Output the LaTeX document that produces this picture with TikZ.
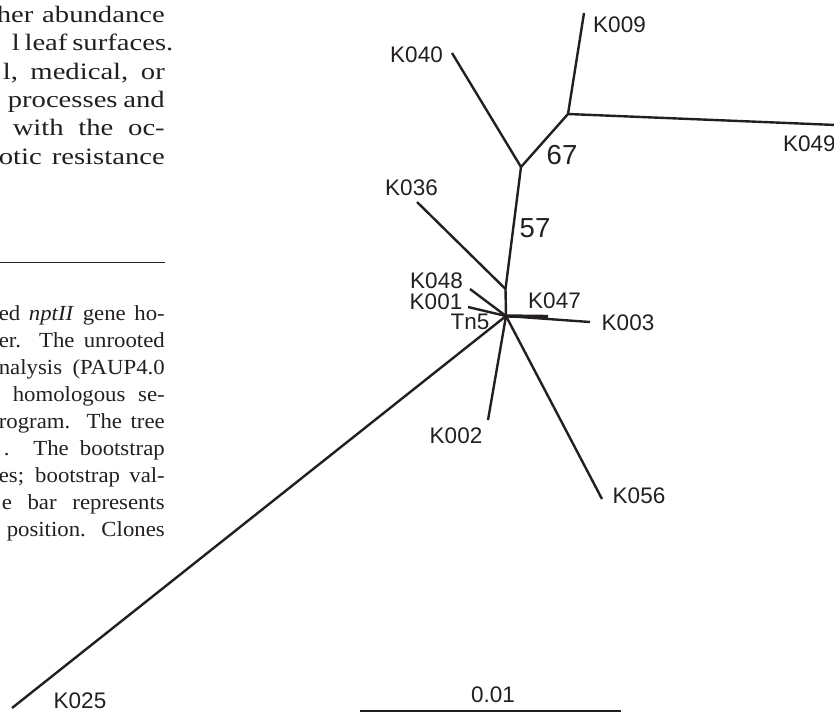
\documentclass[tikz,border=0pt]{standalone}
\usepackage{fontspec}
\setmainfont{Liberation Serif}
\newfontfamily\labfont{Liberation Sans}
\newfontfamily\bodyfont{Liberation Serif}
\newfontfamily\capfont{Liberation Serif}
\definecolor{ink}{HTML}{231F20}
\newcommand\sqzline[3]{\scalebox{#1}[1]{\makebox[#2pt][s]{#3}}}
\begin{document}
\begin{tikzpicture}[x=1pt,y=-1pt,
  branch/.style={line width=2.4pt, draw=ink},
  lab/.style={font=\labfont\fontsize{22.5}{27}\selectfont, text=ink, inner sep=0pt, anchor=center},
  boot/.style={font=\labfont\fontsize{27.5}{32}\selectfont, text=ink, inner sep=0pt, anchor=center},
  bodyline/.style={font=\bodyfont\fontsize{23.5}{28}\selectfont, text=ink, inner sep=0pt, anchor=base east},
  capline/.style={font=\capfont\fontsize{21.5}{27}\selectfont, text=ink, inner sep=0pt, anchor=base east}]
\useasboundingbox (0,0) rectangle (834,713);
% page text at left
\node[bodyline] (b1) at (165,22.7) {\sqzline{1.22}{137.7}{her abundance}};
\node[bodyline] (b2) at (165,50.7) {\sqzline{1.22}{125.4}{l leaf surfaces.}};
\node[bodyline] (b3) at (165,79) {\sqzline{1.22}{132.8}{l, medical, or}};
\node[bodyline] (b4) at (165,107.3) {\sqzline{1.22}{128.7}{processes and}};
\node[bodyline] (b5) at (165,135.6) {\sqzline{1.22}{124.6}{with the oc-}};
\node[bodyline] (b6) at (165,164) {\sqzline{1.22}{136.1}{otic resistance}};
\coordinate (r1) at (0,262);
\coordinate (r2) at (165,262);
\draw[ink, line width=0.8pt] (r1) -- (r2);
\node[capline] (c1) at (165,320) {\sqzline{1.06}{156.6}{ed \textit{nptII} gene ho-}};
\node[capline] (c2) at (165,347) {\sqzline{1.06}{156.6}{er. The unrooted}};
\node[capline] (c3) at (165,374) {\sqzline{1.06}{156.6}{nalysis (PAUP4.0}};
\node[capline] (c4) at (165,401) {\sqzline{1.06}{143.4}{homologous se-}};
\node[capline] (c5) at (165,428) {\sqzline{1.06}{156.6}{rogram. The tree}};
\node[capline] (c6) at (165,455) {\sqzline{1.06}{151.9}{. The bootstrap}};
\node[capline] (c7) at (165,482) {\sqzline{1.06}{156.6}{es; bootstrap val-}};
\node[capline] (c8) at (165,509) {\sqzline{1.06}{153.8}{e bar represents}};
\node[capline] (c9) at (165,536) {\sqzline{1.06}{149.1}{position. Clones}};
% tree
\coordinate (H) at (506,316);
\coordinate (C) at (505.5,289);
\coordinate (B) at (521,167);
\coordinate (A) at (568,114);
\coordinate (t009) at (584,13);
\coordinate (t049) at (836,125);
\coordinate (t040) at (452,53);
\coordinate (t036) at (417,202);
\coordinate (t048) at (470,289);
\coordinate (t001) at (468,307);
\coordinate (t047) at (548,316.5);
\coordinate (t003) at (590,322);
\coordinate (t002) at (488,420);
\coordinate (t056) at (602,499);
\coordinate (t025) at (12,708);
\draw[branch] (H) -- (C) -- (B) -- (A) -- (t009);
\draw[branch] (A) -- (t049);
\draw[branch] (B) -- (t040);
\draw[branch] (C) -- (t036);
\draw[branch] (H) -- (t048);
\draw[branch] (H) -- (t001);
\draw[branch, line width=3.4pt] (H) -- (t047);
\draw[branch] (H) -- (t003);
\draw[branch] (H) -- (t002);
\draw[branch] (H) -- (t056);
\draw[branch] (H) -- (t025);
% labels
\node[lab] (l009) at (619.5,25) {K009};
\node[lab, anchor=west] (l049) at (783,143.5) {K049};
\node[lab] (l040) at (416.5,55) {K040};
\node[lab] (l036) at (411.5,188) {K036};
\node[lab] (l048) at (436.5,281) {K048};
\node[lab] (l001) at (436,301.5) {K001};
\node[lab] (lTn5) at (470,321.5) {Tn5};
\node[lab] (l047) at (554.5,301) {K047};
\node[lab] (l003) at (628,323) {K003};
\node[lab] (l002) at (456,436) {K002};
\node[lab] (l056) at (639,496) {K056};
\node[lab] (l025) at (80,701) {K025};
\node[boot] (n67) at (562,155) {67};
\node[boot] (n57) at (535,228) {57};
% scale bar
\coordinate (s1) at (360,711);
\coordinate (s2) at (621,711);
\draw[branch, line width=2.6pt] (s1) -- (s2);
\node[lab] (lscale) at (493,695) {0.01};
\end{tikzpicture}
\end{document}
